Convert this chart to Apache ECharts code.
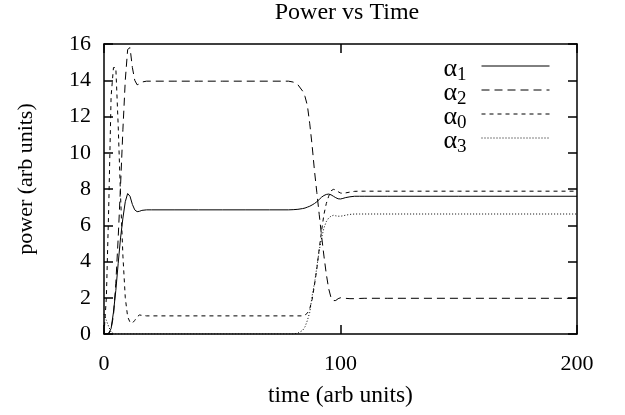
<!DOCTYPE html>
<html>
<head>
<meta charset="utf-8">
<script src="https://cdn.jsdelivr.net/npm/echarts@6/dist/echarts.min.js"></script>
<style>
    html, body {margin: 0; padding: 0; background: #fff;}
    #power {width: 625px; height: 415px;}
</style>
</head>
<body>
<div id="power"></div>
<script>
var times = [0, 1, 2, 3, 4, 5, 6, 7, 8, 9, 10, 11, 12, 13, 14, 15, 16, 18, 20, 30, 40, 50, 60, 70, 78,
    80, 82, 84, 85, 86, 87, 88, 89, 90, 91, 92, 93, 94, 95, 96, 97, 98, 99, 100, 101, 102, 104, 106, 108, 110, 120, 150, 200];

var alpha1 = [0, 0, 0.05, 0.3, 1.2, 2.4, 3.9, 5.3, 6.4, 7.3, 7.75, 7.6, 7.15, 6.85, 6.75, 6.77, 6.82, 6.85, 6.85, 6.85, 6.85, 6.85, 6.85, 6.85, 6.85,
    6.86, 6.88, 6.92, 6.95, 7.0, 7.05, 7.12, 7.2, 7.3, 7.42, 7.55, 7.64, 7.7, 7.72, 7.68, 7.6, 7.52, 7.46, 7.45, 7.48, 7.52, 7.57, 7.6, 7.6, 7.6, 7.6, 7.6, 7.6];

var alpha2 = [0, 0, 0, 0.3, 1.0, 2.8, 5.3, 8.2, 11.3, 14.0, 15.7, 15.8, 14.7, 14.0, 13.75, 13.8, 13.9, 13.95, 13.95, 13.95, 13.95, 13.95, 13.95, 13.95, 13.95,
    13.9, 13.75, 13.4, 13.1, 12.6, 11.6, 10.4, 9.0, 7.8, 6.6, 5.4, 4.3, 3.3, 2.5, 2.0, 1.84, 1.85, 1.95, 2.0, 2.0, 1.97, 1.95, 1.95, 1.96, 1.97, 1.97, 1.97, 1.97];

var alpha0 = [0, 2.0, 7.0, 13.1, 14.7, 14.7, 11.5, 7.6, 4.3, 2.0, 0.95, 0.65, 0.6, 0.75, 0.95, 1.05, 1.03, 1.0, 1.0, 1.0, 1.0, 1.0, 1.0, 1.0, 1.0,
    1.0, 1.0, 1.0, 1.05, 1.15, 1.4, 1.9, 2.7, 3.6, 4.7, 5.7, 6.6, 7.2, 7.6, 7.9, 7.98, 7.95, 7.85, 7.78, 7.76, 7.78, 7.83, 7.87, 7.88, 7.88, 7.88, 7.88, 7.88];

var alpha3 = [1.1, 0.75, 0.4, 0.1, 0.02, 0, 0, 0, 0, 0, 0, 0, 0, 0, 0, 0, 0, 0, 0, 0, 0, 0, 0, 0, 0,
    0, 0.05, 0.2, 0.4, 0.75, 1.2, 2.1, 2.8, 3.7, 4.6, 5.3, 5.85, 6.2, 6.4, 6.5, 6.55, 6.52, 6.5, 6.5, 6.52, 6.55, 6.6, 6.62, 6.62, 6.62, 6.62, 6.62, 6.62];

var seriesNames = ['a1', 'a2', 'a0', 'a3'];
var legendLabels = {a1: '1', a2: '2', a0: '0', a3: '3'};

function pairs(values) {
    var out = [];
    for (var i = 0; i < times.length; i++) {
        out.push([times[i], values[i]]);
    }
    return out;
}

var font = 'Liberation Serif';
var chart = echarts.init(document.getElementById('power'));

// mirrored axes for the top and right border with inward ticks
function frameAxis(pos, isX) {
    return {
        type: 'value',
        position: pos,
        min: 0,
        max: isX ? 200 : 16,
        interval: isX ? 100 : 2,
        axisLine: {show: true, onZero: false, lineStyle: {color: '#000', width: 1.5}},
        axisTick: {show: true, inside: true, length: 9, lineStyle: {color: '#000', width: 1.5}},
        axisLabel: {show: false},
        splitLine: {show: false}
    };
}

function lineSeries(name, values, dash) {
    return {
        name: name,
        type: 'line',
        data: pairs(values),
        symbol: 'none',
        animation: false,
        lineStyle: {color: '#000', width: 1, type: dash}
    };
}

var option = {
    animation: false,
    title: {
        text: 'Power vs Time',
        left: 342,
        top: -4,
        textAlign: 'center',
        textStyle: {fontFamily: font, fontSize: 24, fontWeight: 'normal', color: '#000'}
    },
    legend: {
        data: seriesNames,
        right: 70,
        top: 51,
        orient: 'vertical',
        align: 'right',
        itemGap: -5,
        itemWidth: 68,
        itemHeight: 14,
        itemStyle: {opacity: 0},
        lineStyle: {width: 1},
        formatter: function (name) {
            return '{a|α}{s|' + legendLabels[name] + '}';
        },
        textStyle: {
            color: '#000',
            rich: {
                a: {fontFamily: font, fontSize: 26, color: '#000', lineHeight: 20, verticalAlign: 'top'},
                s: {fontFamily: font, fontSize: 19, color: '#000', lineHeight: 14, verticalAlign: 'top', padding: [10, 10, 0, 0]}
            }
        }
    },
    grid: {left: 104, right: 48, top: 44, bottom: 81},
    xAxis: [
        {
            type: 'value',
            min: 0,
            max: 200,
            interval: 100,
            name: 'time (arb units)',
            nameLocation: 'middle',
            nameGap: 50,
            nameTextStyle: {fontFamily: font, fontSize: 23.5, color: '#000'},
            axisLine: {show: true, onZero: false, lineStyle: {color: '#000', width: 1.5}},
            axisTick: {show: true, inside: true, length: 9, lineStyle: {color: '#000', width: 1.5}},
            axisLabel: {fontFamily: font, fontSize: 22, color: '#000', margin: 19},
            splitLine: {show: false}
        },
        frameAxis('top', true)
    ],
    yAxis: [
        {
            type: 'value',
            min: 0,
            max: 16,
            interval: 2,
            name: 'power (arb units)',
            nameLocation: 'middle',
            nameGap: 67,
            nameTextStyle: {fontFamily: font, fontSize: 22, color: '#000', padding: [0, 0, 0, 20]},
            axisLine: {show: true, onZero: false, lineStyle: {color: '#000', width: 1.5}},
            axisTick: {show: true, inside: true, length: 9, lineStyle: {color: '#000', width: 1.5}},
            axisLabel: {fontFamily: font, fontSize: 22, color: '#000', margin: 13},
            splitLine: {show: false}
        },
        frameAxis('right', false)
    ],
    series: [
        lineSeries('a1', alpha1, 'solid'),
        lineSeries('a2', alpha2, [8, 5]),
        lineSeries('a0', alpha0, [4, 4]),
        lineSeries('a3', alpha3, [1, 2])
    ]
};
chart.setOption(option);
</script>
</body>
</html>
